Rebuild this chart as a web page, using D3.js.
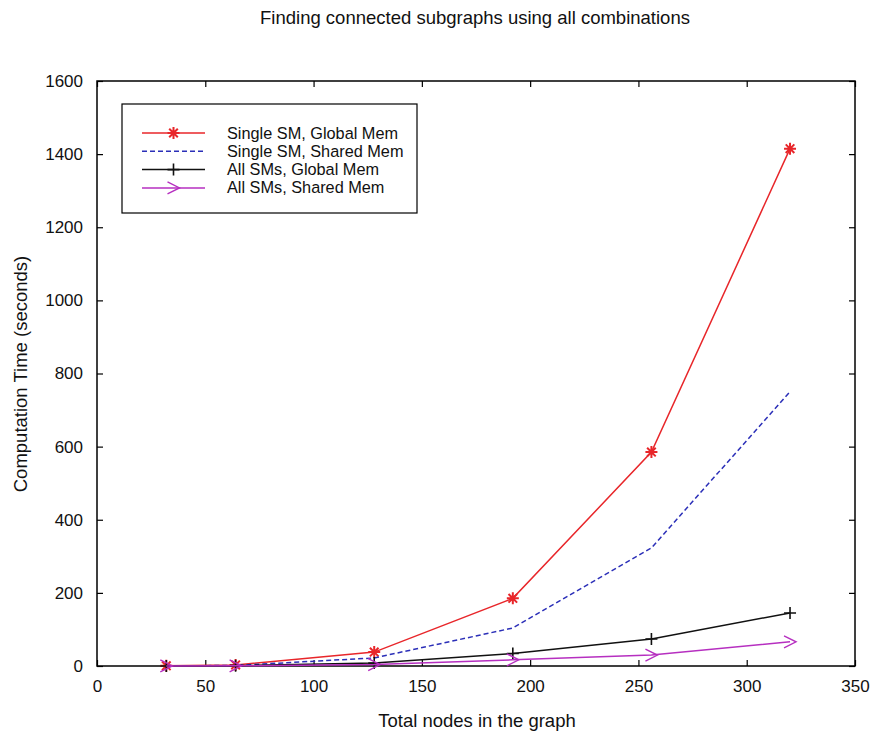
<!DOCTYPE html>
<html>
<head>
    <title>Finding connected subgraphs</title>
    <script src="https://cdn.jsdelivr.net/npm/d3@7"></script>
    <style>
        body { margin: 0; background: #fff; }
        svg text { font-family: "Liberation Sans", Arial, sans-serif; fill: #111; }
    </style>
</head>
<body>
<svg id="chart" width="875" height="737"></svg>
<script>
// chart data
const nodes = [32, 64, 128, 192, 256, 320];
const singleGlobal = [0.5, 3, 38, 185, 585, 1415];
const singleShared = [0.3, 1.5, 22, 104, 323, 750];
const allGlobal = [0.2, 1, 8, 34, 74, 145];
const allShared = [0.1, 0.5, 4, 17, 30, 66];
const seriesNames = ["Single SM, Global Mem", "Single SM, Shared Mem", "All SMs, Global Mem", "All SMs, Shared Mem"];
const xTicks = [0, 50, 100, 150, 200, 250, 300, 350];
const yTicks = [0, 200, 400, 600, 800, 1000, 1200, 1400, 1600];

const svg = d3.select("#chart");
// plot box (top is a window global, so use other names)
const plotL = 97, plotR = 855, plotT = 81, plotB = 666;

const x = d3.scaleLinear().domain([0, 350]).range([plotL, plotR]);
const y = d3.scaleLinear().domain([0, 1600]).range([plotB, plotT]);

// frame + inward ticks like matlab
function tickAxis(axis, tr) {
    const g = svg.append("g").attr("transform", tr).call(axis);
    g.select(".domain").remove();
    g.selectAll("line").attr("stroke", "#000").attr("stroke-width", 1.2);
    g.selectAll("text").style("font-size", "17px").attr("fill", "#111");
    return g;
}
tickAxis(d3.axisBottom(x).tickValues(xTicks).tickSizeInner(-6).tickPadding(14).tickFormat(d3.format("d")), `translate(0,${plotB})`);
tickAxis(d3.axisTop(x).tickValues(xTicks).tickSizeInner(-6).tickFormat(""), `translate(0,${plotT})`);
tickAxis(d3.axisLeft(y).tickValues(yTicks).tickSizeInner(-6).tickPadding(14).tickFormat(d3.format("d")), `translate(${plotL},0)`);
tickAxis(d3.axisRight(y).tickValues(yTicks).tickSizeInner(-6).tickFormat(""), `translate(${plotR},0)`);

svg.append("rect")
    .attr("x", plotL).attr("y", plotT)
    .attr("width", plotR - plotL).attr("height", plotB - plotT)
    .attr("fill", "none").attr("stroke", "#000").attr("stroke-width", 1.5);

// markers
function star(g, c) {
    g.append("path")
        .attr("d", "M-6,0H6M0,-6V6M-4.3,-4.3L4.3,4.3M-4.3,4.3L4.3,-4.3")
        .attr("stroke", c).attr("stroke-width", 2).attr("fill", "none");
}
function plus(g, c) {
    g.append("path").attr("d", "M-6,0H6M0,-6V6")
        .attr("stroke", c).attr("stroke-width", 1.6).attr("fill", "none");
}
function arrow(g, c) {
    g.append("path").attr("d", "M-6,-6L6,0L-6,6")
        .attr("stroke", c).attr("stroke-width", 1.4).attr("fill", "none");
}

const series = [
    { name: seriesNames[0], vals: singleGlobal, color: "#e8262a", dash: null, marker: star },
    { name: seriesNames[1], vals: singleShared, color: "#2b2fb8", dash: "5,3", marker: null },
    { name: seriesNames[2], vals: allGlobal, color: "#111", dash: null, marker: plus },
    { name: seriesNames[3], vals: allShared, color: "#b62fc0", dash: null, marker: arrow }
];

const line = d3.line().x(d => x(d[0])).y(d => y(d[1]));

series.forEach(s => {
    const pts = nodes.map((n, i) => [n, s.vals[i]]);
    svg.append("path")
        .datum(pts)
        .attr("d", line)
        .attr("fill", "none")
        .attr("stroke", s.color)
        .attr("stroke-width", 1.5)
        .attr("stroke-dasharray", s.dash);
    if (s.marker) {
        pts.forEach(p => {
            const g = svg.append("g").attr("transform", `translate(${x(p[0])},${y(p[1])})`);
            s.marker(g, s.color);
        });
    }
});

// legend
const lg = svg.append("g");
lg.append("rect")
    .attr("x", 122).attr("y", 104).attr("width", 295).attr("height", 109)
    .attr("fill", "#fff").attr("stroke", "#000").attr("stroke-width", 1.2);
series.forEach((s, i) => {
    const ly = 133 + i * 18.3;
    lg.append("line")
        .attr("x1", 142).attr("x2", 205).attr("y1", ly).attr("y2", ly)
        .attr("stroke", s.color).attr("stroke-width", 1.5)
        .attr("stroke-dasharray", s.dash);
    if (s.marker) {
        const g = lg.append("g").attr("transform", `translate(173.5,${ly})`);
        s.marker(g, s.color);
    }
    lg.append("text")
        .attr("x", 227).attr("y", ly + 5.5)
        .style("font-size", "16.3px")
        .text(s.name);
});

// titles
svg.append("text")
    .attr("x", 475).attr("y", 24)
    .attr("text-anchor", "middle")
    .style("font-size", "18.5px")
    .text("Finding connected subgraphs using all combinations");

svg.append("text")
    .attr("x", 477).attr("y", 727)
    .attr("text-anchor", "middle")
    .style("font-size", "18.5px")
    .text("Total nodes in the graph");

svg.append("text")
    .attr("transform", "translate(27,374) rotate(-90)")
    .attr("text-anchor", "middle")
    .style("font-size", "18.5px")
    .text("Computation Time (seconds)");
</script>
</body>
</html>
